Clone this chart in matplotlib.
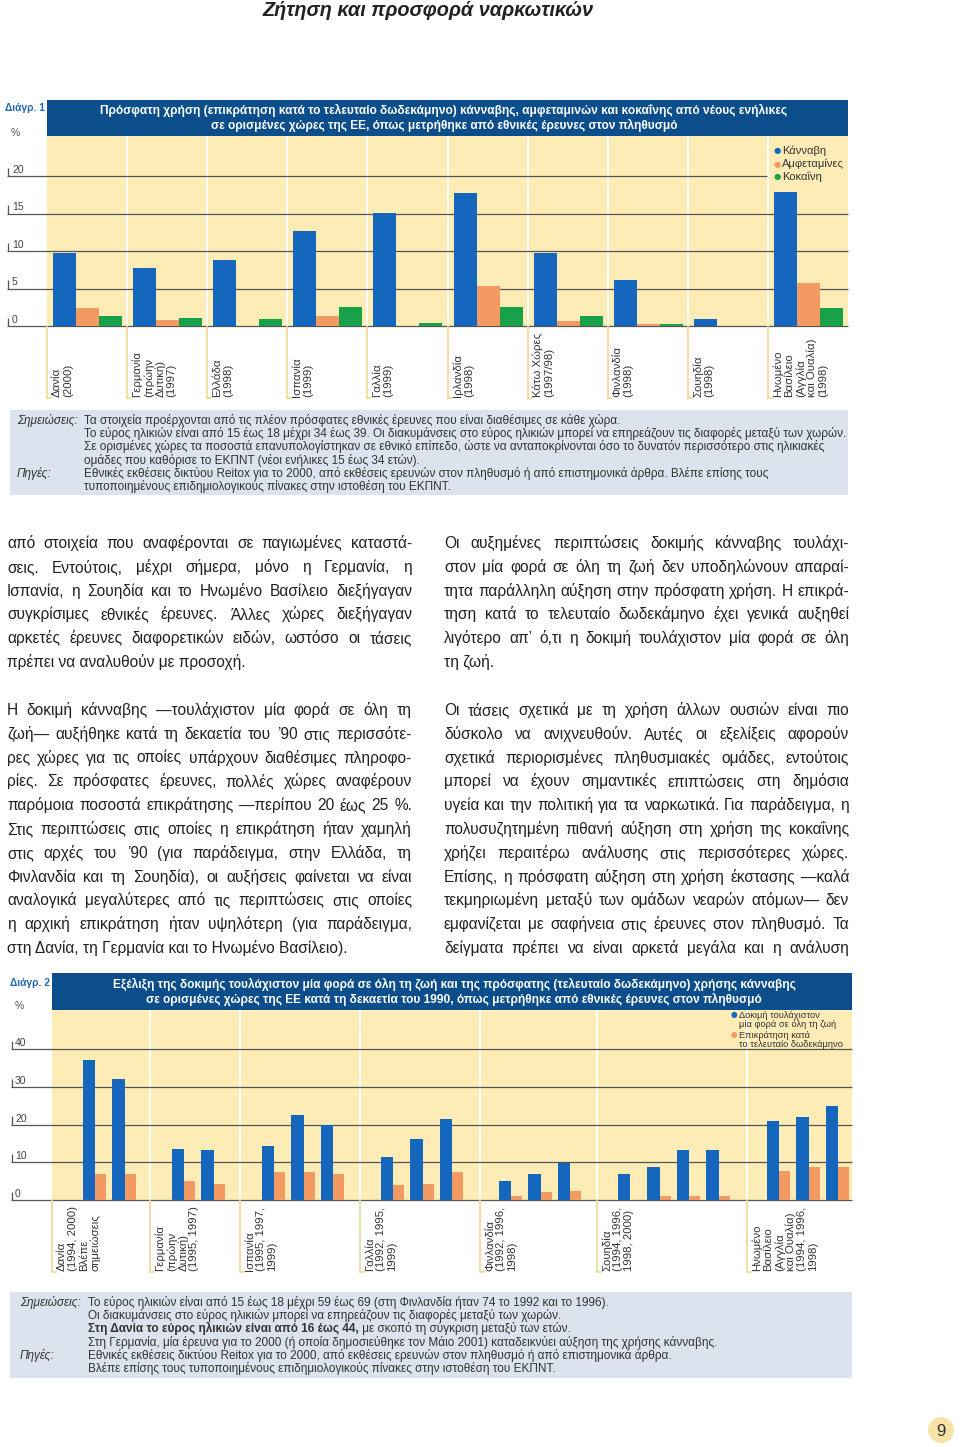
import matplotlib
matplotlib.use('Agg')
import numpy as np
import matplotlib.pyplot as plt
from matplotlib.patches import Rectangle, Ellipse
from matplotlib.font_manager import FontProperties

plt.rcParams['font.family'] = ['Liberation Sans', 'DejaVu Sans']

# ---------------- data: chart 1 ----------------
countries1 = ['Δανία\n(2000)', 'Γερμανία\n(πρώην\nΔυτική)\n(1997)', 'Ελλάδα\n(1998)',
              'Ισπανία\n(1999)', 'Γαλλία\n(1999)', 'Ιρλανδία\n(1998)',
              'Κάτω Χώρες\n(1997/98)', 'Φινλανδία\n(1998)', 'Σουηδία\n(1998)',
              'Ηνωμένο\nΒασίλειο\n(Αγγλία\nκαι Ουαλία)\n(1998)']
cannabis = [9.7, 7.7, 8.8, 12.7, 15.1, 17.7, 9.8, 6.2, 0.9, 17.9]
amphet = [2.4, 0.8, 0.0, 1.3, 0.0, 5.3, 0.7, 0.3, 0.0, 5.8]
cocaine = [1.3, 1.1, 0.9, 2.6, 0.4, 2.5, 1.3, 0.3, 0.0, 2.4]
series1 = ['Κάνναβη', 'Αμφεταμίνες', 'Κοκαΐνη']
ticks1 = [0, 5, 10, 15, 20]

# ---------------- data: chart 2 ----------------
countries2 = ['Δανία\n(1994, 2000)\nΒλέπε\nσημειώσεις', 'Γερμανία\n(πρώην\nΔυτική)\n(1995, 1997)',
              'Ισπανία\n(1995, 1997,\n1999)', 'Γαλλία\n(1992, 1995,\n1999)',
              'Φινλανδία\n(1992, 1996,\n1998)', 'Σουηδία\n(1994, 1996,\n1998, 2000)',
              'Ηνωμένο\nΒασίλειο\n(Αγγλία\nκαι Ουαλία)\n(1994, 1996,\n1998)']
lifetime = [[37.1, 32.2], [13.6, 13.2], [14.3, 22.5, 20.0], [11.3, 16.1, 21.5],
            [5.0, 6.9, 9.9], [6.9, 8.8, 13.2, 13.2], [21.0, 22.0, 24.9]]
last_year = [[6.8, 6.8], [5.0, 4.3], [7.4, 7.4, 6.8], [3.9, 4.3, 7.4],
             [1.0, 2.0, 2.5], [0.0, 1.0, 1.0, 1.0], [7.8, 8.8, 8.8]]
series2 = [['Δοκιμή τουλάχιστον', 'μία φορά σε όλη τη ζωή'], ['Επικράτηση κατά', 'το τελευταίο δωδεκάμηνο']]
ticks2 = [0, 10, 20, 30, 40]

# ---------------- style ----------------
W, H = 960, 1447
blue = '#1467BD'
orange = '#F39A62'
green = '#17A24A'
beige = '#FDECB6'
header = '#0C4E8C'
note_bg = '#DCE2EE'
gridc = '#555555'
tickline = '#EED894'
diagc = '#2166B3'
txt = '#333333'
fs_lab = 8.2
fs_note = 8.5


def fx(px):
    return px / W


def fy(py):
    return 1 - py / H


fig = plt.figure(figsize=(W / 100, H / 100), dpi=100)
renderer = fig.canvas.get_renderer()

fig.text(fx(428), fy(10), 'Ζήτηση και προσφορά ναρκωτικών', ha='center', va='center',
         fontsize=14.3, fontweight='bold', fontstyle='italic', color='#222222')


def box(x0, y0, x1, y1, color):
    fig.add_artist(Rectangle((fx(x0), fy(y1)), fx(x1) - fx(x0), (y1 - y0) / H,
                             transform=fig.transFigure, facecolor=color, edgecolor='none', zorder=0))


# ================= chart 1 =================
box(47, 100, 848, 136, header)
fig.text(fx(444), fy(110), 'Πρόσφατη χρήση (επικράτηση κατά το τελευταίο δωδεκάμηνο) κάνναβης, '
         'αμφεταμινών και κοκαΐνης από νέους ενήλικες', ha='center', va='center',
         color='white', fontsize=8.6, fontweight='bold')
fig.text(fx(444), fy(125), 'σε ορισμένες χώρες της ΕΕ, όπως μετρήθηκε από εθνικές έρευνες στον πληθυσμό',
         ha='center', va='center', color='white', fontsize=8.6, fontweight='bold')
fig.text(fx(5), fy(108), 'Διάγρ. 1', fontsize=7.4, fontweight='bold', color=diagc, va='center', zorder=5)
fig.text(fx(11), fy(133), '%', fontsize=7.5, color='#555555', va='center')

pxu1 = 80.1
ax1 = fig.add_axes([fx(7), fy(326), fx(848) - fx(7), (326 - 136) / H])
ax1.set_xlim(-40 / pxu1, 10)
ax1.set_ylim(0, 190 / 7.5)
ax1.axis('off')
ax1.axvspan(0, 10, color=beige, zorder=0, lw=0)
ax1.vlines(np.arange(1, 10), 0, 190 / 7.5, color='white', lw=1.3, zorder=1)
for t in ticks1:
    right = (767 - 47) / pxu1 if t == 20 else 10
    ax1.hlines(t, -40 / pxu1, right, color=gridc, lw=0.9, zorder=2, clip_on=False)
    ax1.vlines(-39 / pxu1, t, t + 1.1, color=gridc, lw=0.9, clip_on=False)
    ax1.text(-35 / pxu1, t + 0.15, str(t), fontsize=7.5, color='#444444', ha='left', va='bottom',
             family=['Liberation Sans Narrow', 'Liberation Sans'])
x1 = np.arange(len(countries1))
bw = 23 / pxu1
for k, (vals, col) in enumerate(zip([cannabis, amphet, cocaine], [blue, orange, green])):
    ax1.bar(x1 + (6 + 23 * k) / pxu1, vals, width=bw, align='edge', color=col, zorder=3, lw=0)

tr1 = ax1.get_xaxis_transform()
for e, lab in zip(x1, countries1):
    ax1.plot([e, e], [0, -72 / 190], transform=tr1, color=tickline, lw=1.2, clip_on=False)
    ax1.plot([e, e + 4 / pxu1], [-72 / 190, -72 / 190], transform=tr1, color=tickline, lw=1.2, clip_on=False)
    ax1.text(e + 5 / pxu1, -71 / 190, lab, transform=tr1, rotation=90, ha='left', va='bottom',
             fontsize=fs_lab, linespacing=1.12, color=txt)

for k, (name, col) in enumerate(zip(series1, [blue, orange, green])):
    fig.text(fx(774), fy(151 + 13 * k), '●', color=col, fontsize=6, va='center', family='DejaVu Sans')
    fig.text(fx(782), fy(151 + 13 * k), name, color=txt, fontsize=8, va='center')

# notes 1
box(10, 410, 848, 495, note_bg)
fig.text(fx(17), fy(424), 'Σημειώσεις:', fontsize=fs_note, fontstyle='italic', color=txt, va='baseline')
notes1 = ['Τα στοιχεία προέρχονται από τις πλέον πρόσφατες εθνικές έρευνες που είναι διαθέσιμες σε κάθε χώρα.',
          'Το εύρος ηλικιών είναι από 15 έως 18 μέχρι 34 έως 39. Οι διακυμάνσεις στο εύρος ηλικιών μπορεί να '
          'επηρεάζουν τις διαφορές μεταξύ των χωρών.',
          'Σε ορισμένες χώρες τα ποσοστά επανυπολογίστηκαν σε εθνικό επίπεδο, ώστε να ανταποκρίνονται όσο το '
          'δυνατόν περισσότερο στις ηλικιακές',
          'ομάδες που καθόρισε το ΕΚΠΝΤ (νέοι ενήλικες 15 έως 34 ετών).',
          'Εθνικές εκθέσεις δικτύου Reitox για το 2000, από εκθέσεις ερευνών στον πληθυσμό ή από επιστημονικά '
          'άρθρα. Βλέπε επίσης τους',
          'τυποποιημένους επιδημιολογικούς πίνακες στην ιστοθέση του ΕΚΠΝΤ.']
for j, s in enumerate(notes1):
    fig.text(fx(84), fy(424 + 13.2 * j), s, fontsize=fs_note, color=txt, va='baseline')
fig.text(fx(17), fy(424 + 13.2 * 4), 'Πηγές:', fontsize=fs_note, fontstyle='italic', color=txt,
         va='baseline')

# ================= body text =================
fp_body = FontProperties(family=['Liberation Sans', 'DejaVu Sans'], size=11.2)


def justified(lines, x0, x1, y0, step):
    for j, line in enumerate(lines):
        yb = fy(y0 + j * step)
        words = line.split(' ')
        if j == len(lines) - 1 or len(words) == 1:
            fig.text(fx(x0), yb, line, fontproperties=fp_body, va='baseline', color='#222222')
            continue
        widths = [renderer.get_text_width_height_descent(w, fp_body, ismath=False)[0] for w in words]
        gap = (x1 - x0 - sum(widths)) / (len(words) - 1)
        x = x0
        for w, wd in zip(words, widths):
            fig.text(fx(x), yb, w, fontproperties=fp_body, va='baseline', color='#222222')
            x += wd + gap


left1 = ['από στοιχεία που αναφέρονται σε παγιωμένες καταστά-',
         'σεις. Εντούτοις, μέχρι σήμερα, μόνο η Γερμανία, η',
         'Ισπανία, η Σουηδία και το Ηνωμένο Βασίλειο διεξήγαγαν',
         'συγκρίσιμες εθνικές έρευνες. Άλλες χώρες διεξήγαγαν',
         'αρκετές έρευνες διαφορετικών ειδών, ωστόσο οι τάσεις',
         'πρέπει να αναλυθούν με προσοχή.']
right1 = ['Οι αυξημένες περιπτώσεις δοκιμής κάνναβης τουλάχι-',
          'στον μία φορά σε όλη τη ζωή δεν υποδηλώνουν απαραί-',
          'τητα παράλληλη αύξηση στην πρόσφατη χρήση. Η επικρά-',
          'τηση κατά το τελευταίο δωδεκάμηνο έχει γενικά αυξηθεί',
          'λιγότερο απ’ ό,τι η δοκιμή τουλάχιστον μία φορά σε όλη',
          'τη ζωή.']
left2 = ['Η δοκιμή κάνναβης —τουλάχιστον μία φορά σε όλη τη',
         'ζωή— αυξήθηκε κατά τη δεκαετία του ’90 στις περισσότε-',
         'ρες χώρες για τις οποίες υπάρχουν διαθέσιμες πληροφο-',
         'ρίες. Σε πρόσφατες έρευνες, πολλές χώρες αναφέρουν',
         'παρόμοια ποσοστά επικράτησης —περίπου 20 έως 25 %.',
         'Στις περιπτώσεις στις οποίες η επικράτηση ήταν χαμηλή',
         'στις αρχές του ’90 (για παράδειγμα, στην Ελλάδα, τη',
         'Φινλανδία και τη Σουηδία), οι αυξήσεις φαίνεται να είναι',
         'αναλογικά μεγαλύτερες από τις περιπτώσεις στις οποίες',
         'η αρχική επικράτηση ήταν υψηλότερη (για παράδειγμα,',
         'στη Δανία, τη Γερμανία και το Ηνωμένο Βασίλειο).']
right2 = ['Οι τάσεις σχετικά με τη χρήση άλλων ουσιών είναι πιο',
          'δύσκολο να ανιχνευθούν. Αυτές οι εξελίξεις αφορούν',
          'σχετικά περιορισμένες πληθυσμιακές ομάδες, εντούτοις',
          'μπορεί να έχουν σημαντικές επιπτώσεις στη δημόσια',
          'υγεία και την πολιτική για τα ναρκωτικά. Για παράδειγμα, η',
          'πολυσυζητημένη πιθανή αύξηση στη χρήση της κοκαΐνης',
          'χρήζει περαιτέρω ανάλυσης στις περισσότερες χώρες.',
          'Επίσης, η πρόσφατη αύξηση στη χρήση έκστασης —καλά',
          'τεκμηριωμένη μεταξύ των ομάδων νεαρών ατόμων— δεν',
          'εμφανίζεται με σαφήνεια στις έρευνες στον πληθυσμό. Τα',
          'δείγματα πρέπει να είναι αρκετά μεγάλα και η ανάλυση',
          '']
justified(left1, 7, 412, 548, 23.8)
justified(right1, 444, 849, 548, 23.8)
justified(left2, 7, 412, 715, 23.8)
justified(right2, 444, 849, 715, 23.8)

# ================= chart 2 =================
box(52, 973, 852, 1010, header)
fig.text(fx(454), fy(984), 'Εξέλιξη της δοκιμής τουλάχιστον μία φορά σε όλη τη ζωή και της πρόσφατης '
         '(τελευταίο δωδεκάμηνο) χρήσης κάνναβης', ha='center', va='center', color='white',
         fontsize=8.6, fontweight='bold')
fig.text(fx(454), fy(999), 'σε ορισμένες χώρες της ΕΕ κατά τη δεκαετία του 1990, όπως μετρήθηκε από '
         'εθνικές έρευνες στον πληθυσμό', ha='center', va='center', color='white', fontsize=8.6,
         fontweight='bold')
fig.text(fx(10), fy(983), 'Διάγρ. 2', fontsize=7.4, fontweight='bold', color=diagc, va='center', zorder=5)
fig.text(fx(15), fy(1006), '%', fontsize=7.5, color='#555555', va='center')

edges2 = [0, 98, 188, 308, 428, 545, 695, 800]
first_off = [31, 22, 22, 21, 19, 21, 20]
pitch = 29.5
ax2 = fig.add_axes([fx(11), fy(1200), fx(852) - fx(11), (1200 - 1010) / H])
ax2.set_xlim(-41, 800)
ax2.set_ylim(0, 190 / 3.767)
ax2.axis('off')
ax2.axvspan(0, 800, color=beige, zorder=0, lw=0)
ax2.vlines(edges2[1:-1], 0, 190 / 3.767, color='white', lw=1.3, zorder=1)
for t in ticks2:
    ax2.hlines(t, -41, 800, color=gridc, lw=0.9, zorder=2, clip_on=False)
    ax2.vlines(-40, t, t + 2.2, color=gridc, lw=0.9, clip_on=False)
    ax2.text(-37, t + 0.3, str(t), fontsize=7.5, color='#444444', ha='left', va='bottom',
             family=['Liberation Sans Narrow', 'Liberation Sans'])
for g in range(len(countries2)):
    pos = edges2[g] + first_off[g] + pitch * np.arange(len(lifetime[g]))
    ax2.bar(pos, lifetime[g], width=12.5, align='edge', color=blue, zorder=3, lw=0)
    ax2.bar(pos + 12.5, last_year[g], width=11, align='edge', color=orange, zorder=3, lw=0)

tr2 = ax2.get_xaxis_transform()
for e, lab in zip(edges2[:-1], countries2):
    ax2.plot([e, e], [0, -72 / 190], transform=tr2, color=tickline, lw=1.2, clip_on=False)
    ax2.plot([e, e + 4], [-72 / 190, -72 / 190], transform=tr2, color=tickline, lw=1.2, clip_on=False)
    ax2.text(e + 5, -71 / 190, lab, transform=tr2, rotation=90, ha='left', va='bottom',
             fontsize=fs_lab, linespacing=1.12, color=txt)

for k, (lines, col) in enumerate(zip(series2, [blue, orange])):
    y0 = 1015 + 20 * k
    fig.text(fx(731), fy(y0), '●', color=col, fontsize=5.5, va='center', family='DejaVu Sans', zorder=5)
    for m, s in enumerate(lines):
        fig.text(fx(739), fy(y0 + 9.5 * m), s, color=txt, fontsize=6.7, va='center', zorder=5,
                 family=['Liberation Sans Narrow', 'Liberation Sans'])

# notes 2
box(10, 1292, 852, 1378, note_bg)
b0 = 1306
fig.text(fx(20), fy(b0), 'Σημειώσεις:', fontsize=fs_note, fontstyle='italic', color=txt, va='baseline')
fig.text(fx(20), fy(b0 + 13.2 * 4), 'Πηγές:', fontsize=fs_note, fontstyle='italic', color=txt,
         va='baseline')
notes2 = ['Το εύρος ηλικιών είναι από 15 έως 18 μέχρι 59 έως 69 (στη Φινλανδία ήταν 74 το 1992 και το 1996).',
          'Οι διακυμάνσεις στο εύρος ηλικιών μπορεί να επηρεάζουν τις διαφορές μεταξύ των χωρών.',
          None,
          'Στη Γερμανία, μία έρευνα για το 2000 (ή οποία δημοσιεύθηκε τον Μάιο 2001) καταδεικνύει αύξηση '
          'της χρήσης κάνναβης.',
          'Εθνικές εκθέσεις δικτύου Reitox για το 2000, από εκθέσεις ερευνών στον πληθυσμό ή από επιστημονικά άρθρα.',
          'Βλέπε επίσης τους τυποποιημένους επιδημιολογικούς πίνακες στην ιστοθέση του ΕΚΠΝΤ.']
for j, s in enumerate(notes2):
    if s is None:
        continue
    fig.text(fx(88), fy(b0 + 13.2 * j), s, fontsize=fs_note, color=txt, va='baseline')
bold_part = 'Στη Δανία το εύρος ηλικιών είναι από 16 έως 44,'
fp_bold = FontProperties(family=['Liberation Sans', 'DejaVu Sans'], size=fs_note, weight='bold')
wb = renderer.get_text_width_height_descent(bold_part, fp_bold, ismath=False)[0]
fig.text(fx(88), fy(b0 + 13.2 * 2), bold_part, fontproperties=fp_bold, color=txt, va='baseline')
fig.text(fx(88 + wb), fy(b0 + 13.2 * 2), ' με σκοπό τη σύγκριση μεταξύ των ετών.', fontsize=fs_note,
         color=txt, va='baseline')

# page number
fig.add_artist(Ellipse((fx(941), fy(1430)), 26 / W, 26 / H, transform=fig.transFigure,
                       facecolor='#F8E2A6', edgecolor='none'))
fig.text(fx(941), fy(1431), '9', ha='center', va='center', fontsize=12, color=txt)

fig.savefig('out.png', dpi=100)
